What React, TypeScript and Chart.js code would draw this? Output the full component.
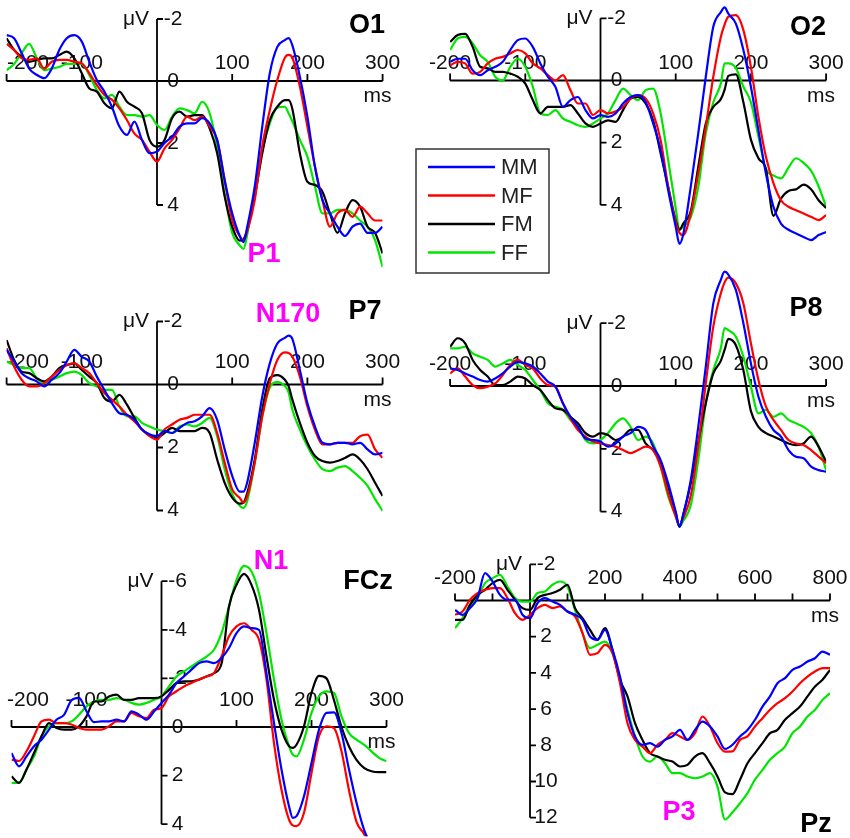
import React, { useEffect, useRef } from "react";
import { Chart, registerables } from "chart.js";

Chart.register(...registerables);

// ---------- series / categories ----------
const SERIES_NAMES = ["MM", "MF", "FM", "FF"];
const SERIES_COLORS = ["#0000ff", "#ff0000", "#000000", "#00e600"];

// time points (ms)
const TIMES_A = [-200,-190,-180,-170,-160,-150,-140,-130,-120,-110,-100,-90,-80,-70,-60,-50,-40,-30,-20,-10,0,10,20,30,40,50,60,70,80,90,100,110,115,120,130,140,150,160,170,175,180,190,200,210,220,230,240,250,260,270,280,290,300];
const TIMES_B = [-200,-190,-180,-170,-160,-150,-140,-130,-120,-110,-100,-90,-80,-70,-60,-50,-40,-30,-20,-10,0,10,20,30,40,50,60,70,80,90,100,105,110,120,130,140,150,160,165,170,180,190,200,210,220,230,240,250,260,270,280,290,300];
const TIMES_FCZ = [-200,-190,-180,-170,-160,-150,-140,-130,-120,-110,-100,-90,-80,-70,-60,-50,-40,-30,-20,-10,0,10,20,30,40,50,60,70,80,90,100,110,120,130,140,150,160,170,175,180,190,200,210,220,230,240,250,260,270,280,290,300];
const TIMES_PZ = [-200,-180,-160,-140,-120,-100,-80,-60,-40,-20,0,20,40,60,80,100,120,140,160,180,200,220,240,260,280,300,320,340,360,380,400,420,440,460,480,500,520,540,560,580,600,620,640,660,680,700,720,740,760,780,800];

// ---------- O1 (µV) ----------
const O1_MM = [-1.48,-1.38,-0.9,-0.4,-0.2,-0.09,-0.4,-1.0,-1.38,-1.48,-1.27,-0.62,-0.03,0.34,0.83,1.47,1.74,1.31,1.9,2.33,2.28,2.0,1.8,1.47,1.37,1.37,1.2,1.37,1.9,3.2,4.27,5.0,5.2,4.7,3.4,1.47,-0.25,-1.1,-1.32,-1.38,-1.15,-0.14,1.15,2.76,3.84,4.27,4.7,5.0,4.7,4.6,4.9,4.9,4.7];
const O1_MF = [-1.2,-1.0,-0.73,-0.68,-0.73,-0.4,-0.62,-0.68,-0.68,-0.62,-0.57,-0.25,0.13,0.45,0.6,0.88,1.26,1.7,1.9,2.28,2.6,2.17,1.9,1.53,1.15,1.26,1.15,1.47,1.9,3.2,4.5,5.0,5.15,4.85,3.84,2.1,0.94,-0.03,-0.75,-0.84,-0.75,0.18,1.47,2.76,3.84,4.7,4.27,4.16,4.38,4.05,4.27,4.5,4.5];
const O1_FM = [-1.38,-1.0,-0.78,-0.62,-0.68,-0.73,-0.73,-0.84,-0.95,-0.73,-0.25,0.24,0.34,0.72,0.88,0.34,0.67,0.83,1.04,1.9,2.12,1.9,1.2,0.99,1.15,1.1,1.1,1.53,2.33,3.73,4.7,5.15,5.1,4.8,3.73,2.33,1.26,0.83,0.62,0.62,0.9,2.33,3.25,3.35,3.57,4.27,4.9,4.27,3.84,4.05,4.7,4.9,5.56];
const O1_FF = [-0.35,-0.55,-0.9,-1.2,-0.75,-0.35,-0.4,-0.45,-0.55,-0.55,-0.55,-0.19,0.29,0.56,0.45,0.83,1.1,1.1,1.15,1.1,1.42,1.58,1.15,0.88,0.94,1.04,0.67,1.04,2.12,3.62,4.9,5.3,5.42,4.95,3.51,2.23,1.37,0.85,0.83,1.04,1.3,1.9,2.44,3.4,4.27,4.27,4.16,4.16,4.27,4.5,4.7,5.13,6.0];

// ---------- O2 ----------
const O2_MM = [-0.6,-0.7,-0.7,-0.33,-0.17,-0.33,-0.44,-0.6,-0.98,-1.3,-1.35,-1.08,-0.55,-0.12,0.2,0.85,0.63,0.53,0.95,1.22,1.11,1.17,1.06,0.74,0.53,0.47,0.69,1.38,2.24,3.53,4.7,5.25,4.95,3.42,1.7,-0.12,-1.73,-2.2,-2.35,-2.15,-1.83,-0.98,0.2,1.6,3.0,4.06,4.6,4.8,4.92,5.03,5.13,4.97,4.87];
const O2_MF = [-0.49,-0.6,-0.55,-0.22,-0.28,-0.55,-0.7,-0.76,-0.87,-0.98,-0.87,-0.55,-0.39,-0.17,0,-0.17,0.31,0.74,0.74,1.11,0.95,1.06,1.0,0.85,0.58,0.47,0.58,1.06,1.92,3.42,4.55,4.9,4.97,4.28,3.0,1.5,-0.12,-1.4,-1.8,-2.05,-2.1,-1.62,-0.44,1.17,2.45,3.3,3.85,4.06,4.17,4.28,4.38,4.49,4.33];
const O2_FM = [-1.24,-1.46,-1.5,-1.08,-0.44,-0.39,-0.28,-0.28,-0.22,-0.12,0.1,0.63,1.06,0.85,0.85,0.85,0.79,1.06,1.38,1.49,1.38,1.28,1.33,0.95,0.58,0.53,0.74,1.28,2.35,3.42,4.5,4.8,4.6,4.2,2.78,1.38,0.85,0.6,0.3,-0.15,-0.2,0.7,1.9,2.5,2.85,4.35,3.8,3.55,3.5,3.35,3.5,3.85,4.1];
const O2_FF = [-0.98,-1.35,-1.4,-1.19,-0.81,-0.6,-0.12,0,-0.44,-0.7,-0.44,0.2,1.06,1.11,0.95,1.22,1.33,1.44,1.49,1.38,1.22,1.06,0.63,0.26,0.47,0.63,0.31,0.26,1.06,2.56,4.1,4.8,4.7,4.4,3.42,1.7,0.7,0.1,-0.55,-0.55,-0.4,0.2,0.7,1.8,2.85,3.05,3.15,2.8,2.5,2.65,2.9,3.4,4.06];

// ---------- P7 ----------
const P7_MM = [-1.1,-0.73,-0.36,-0.2,-0.1,0.06,-0.15,-0.36,-0.73,-1.1,-0.88,-0.73,-0.25,0.17,0.59,0.91,0.96,1.12,1.43,1.59,1.64,1.48,1.54,1.38,1.22,1.17,1.01,0.75,1.12,2.06,2.9,3.4,3.4,3.1,1.85,0.38,-0.67,-1.3,-1.48,-1.55,-1.45,-0.46,0.59,1.33,1.85,1.9,1.85,1.85,1.9,1.85,2.06,2.22,2.17];
const P7_MF = [-1.15,-0.57,-0.15,0.06,0.06,-0.04,-0.25,-0.46,-0.62,-0.67,-0.52,-0.36,-0.04,0.27,0.48,0.7,0.96,1.17,1.43,1.64,1.75,1.43,1.27,1.12,1.06,0.96,0.96,0.96,1.54,2.48,3.33,3.6,3.75,3.55,2.48,1.01,-0.04,-0.78,-1.02,-1.0,-0.88,-0.25,0.7,1.43,1.9,1.9,1.85,1.85,1.85,1.64,1.59,2.06,2.33];
const P7_FM = [-1.41,-0.78,-0.41,-0.36,-0.2,-0.1,-0.25,-0.52,-0.62,-0.67,-0.46,-0.25,-0.04,0.43,0.54,0.33,0.64,1.06,1.43,1.59,1.69,1.54,1.38,1.48,1.48,1.48,1.38,1.54,2.38,3.12,3.59,3.78,3.75,3.45,2.38,0.8,-0.2,-0.3,-0.15,0.05,0.48,1.22,1.85,2.27,2.43,2.48,2.43,2.33,2.22,2.38,2.69,3.12,3.54];
const P7_FF = [-0.73,-0.62,-0.52,-0.52,-0.2,-0.04,-0.15,-0.25,-0.36,-0.41,-0.3,-0.04,0.06,0.17,0.17,0.7,1.01,1.01,1.22,1.33,1.43,1.48,1.54,1.33,1.27,1.33,1.22,1.06,1.64,2.69,3.48,3.85,3.92,3.7,2.48,1.01,0.1,-0.08,0.05,0.25,0.8,1.43,1.96,2.38,2.69,2.75,2.64,2.59,2.75,2.96,3.22,3.64,4.01];

// ---------- P8 ----------
const P8_MM = [-0.56,-0.51,-0.4,-0.3,-0.19,-0.14,-0.24,-0.4,-0.62,-0.77,-0.72,-0.62,-0.4,-0.14,0.02,0.55,0.98,1.3,1.67,1.72,1.77,1.93,1.83,1.61,1.5,1.3,1.4,1.93,2.36,3.1,4.0,4.48,4.1,3.0,1.3,-0.62,-2.63,-3.38,-3.64,-3.55,-3.06,-2.0,-0.72,0.34,0.98,1.4,1.61,2.04,2.25,2.3,2.57,2.68,2.73];
const P8_MF = [-0.4,-0.56,-0.3,-0.03,0.07,0.02,-0.08,-0.35,-0.67,-0.83,-0.67,-0.56,-0.24,-0.03,0.02,0.55,1.03,1.4,1.61,1.77,1.83,1.88,1.93,2.04,2.14,2.04,1.93,2.04,2.57,3.42,4.15,4.43,4.2,3.5,1.9,-0.08,-1.89,-2.95,-3.3,-3.45,-3.27,-2.63,-1.36,-0.19,0.66,1.08,1.4,1.72,1.83,1.88,2.04,2.25,2.46];
const P8_FM = [-1.25,-1.52,-1.36,-0.83,-0.51,-0.3,-0.03,-0.03,-0.14,-0.3,-0.24,-0.03,0.13,0.45,0.71,0.76,0.98,1.19,1.5,1.61,1.5,1.56,1.72,1.61,1.4,1.4,1.83,2.04,2.46,3.21,4.05,4.48,4.1,3.1,1.8,0.55,-0.4,-0.8,-1.15,-1.5,-1.3,-0.5,0.8,1.3,1.5,1.61,1.72,1.83,1.88,1.83,1.61,1.93,2.41];
const P8_FF = [-1.2,-1.2,-1.25,-1.04,-0.93,-0.83,-0.62,-0.72,-0.83,-0.67,-0.51,-0.19,0.13,0.55,0.66,0.76,1.08,1.3,1.72,1.83,1.72,1.5,1.19,1.03,1.3,1.72,1.61,1.83,2.57,3.52,4.15,4.48,4.3,3.8,2.36,0.55,-0.5,-1.2,-1.84,-1.78,-1.57,-0.93,0.02,0.87,0.76,0.98,0.87,1.08,1.19,1.3,1.5,1.93,2.68];

// ---------- FCz ----------
const FCZ_MM = [1.07,1.62,1.21,0.79,0.52,0.11,-0.3,-0.5,-1.1,-1.2,-0.65,-0.2,-0.23,-0.23,-0.3,-0.23,-0.64,-0.51,-0.3,-0.64,-0.99,-1.33,-1.81,-2.08,-2.36,-2.63,-2.7,-2.63,-2.84,-3.25,-3.86,-4.14,-4.07,-4.0,-2.2,-0.16,1.75,3.26,3.74,3.67,2.85,1.48,0.11,-0.58,-0.6,0.25,1.75,3.12,4.22,4.9,null,null];
const FCZ_MF = [1.34,1.4,1.0,0.38,-0.23,-0.3,-0.16,-0.16,-0.1,0.04,0.11,0.11,0.11,-0.03,-0.23,-0.23,-0.58,-0.44,-0.37,-0.71,-0.78,-1.26,-1.47,-1.67,-1.81,-1.95,-2.08,-2.22,-2.9,-3.73,-4.14,-4.27,-4.0,-3.59,-1.95,0.66,2.58,3.81,4.05,4.08,3.53,1.89,0.38,-0.03,0.05,1.0,2.6,3.9,4.4,4.95,null,null];
const FCZ_FM = [2.03,2.3,1.75,1.07,0.38,-0.16,0.04,0.11,0.11,-0.03,-0.44,-1.05,-1.05,-1.26,-1.33,-1.12,-1.12,-1.19,-1.19,-1.19,-1.26,-1.53,-1.81,-1.88,-1.88,-1.95,-2.08,-2.22,-2.6,-4.96,-5.85,-6.3,-5.85,-4.82,-2.9,-1.12,0.11,0.79,0.86,0.73,-0.03,-1.4,-2.1,-2.0,-1.1,0.0,0.8,1.35,1.68,1.82,1.86,1.86];
const FCZ_FF = [2.3,2.3,1.75,1.21,0.38,-0.03,-0.16,-0.16,-0.23,-0.51,-0.85,-1.05,-1.12,-1.12,-1.19,-1.12,-0.99,-0.92,-0.99,-1.12,-1.26,-1.67,-2.08,-2.29,-2.49,-2.7,-2.9,-3.18,-3.86,-4.96,-6.05,-6.63,-6.4,-5.5,-3.86,-1.95,-0.3,0.79,1.14,1.21,0.52,-0.58,-1.26,-1.47,-1.4,-0.44,0.25,0.52,0.73,1.0,1.27,1.41];

// ---------- Pz ----------
const PZ_MM = [0.52,0.79,0.42,-0.13,-1.51,-1.05,-0.31,-0.04,-0.04,0.79,0.98,0.15,-0.13,0.06,0.24,0.61,0.79,1.07,1.99,2.17,1.62,2.73,4.2,6.22,7.51,7.97,7.88,8.07,7.7,7.51,7.15,7.7,7.15,6.69,6.96,7.51,8.2,7.97,7.51,7.15,6.59,5.86,5.3,4.57,4.29,3.83,3.65,3.37,3.19,2.82,3.0];
const PZ_MF = [0.79,0.61,-0.04,-0.41,-0.59,-0.68,-0.68,-0.13,0.7,1.07,0.79,0.42,0.24,0.42,0.33,0.61,0.88,1.8,3.0,2.91,2.45,2.91,4.57,6.78,7.7,8.07,8.43,7.97,7.7,7.33,7.51,7.7,7.33,6.41,6.96,7.88,8.35,8.34,7.7,7.51,6.96,6.5,6.04,5.67,5.4,5.03,4.57,4.2,3.92,3.74,3.74];
const PZ_FM = [1.07,1.07,0.24,-0.31,-0.59,-0.96,-1.14,-0.59,-0.04,0.42,0.52,-0.13,-0.31,-0.41,-0.59,-0.87,0.42,0.98,1.62,2.17,1.53,2.73,4.38,5.3,6.78,7.7,8.43,8.62,8.8,8.9,9.17,9.08,8.62,8.43,8.99,9.72,10.6,10.7,9.9,8.99,8.43,7.88,7.33,7.15,6.59,6.22,5.86,5.3,4.75,4.38,3.83];
const PZ_FF = [1.53,0.98,0.24,-0.13,-0.96,-1.23,-1.42,-0.77,-0.13,0.06,0.06,-0.41,-0.5,-0.87,-1.05,-0.77,0.52,1.8,2.63,2.45,2.27,2.91,4.38,6.04,7.51,8.62,8.9,8.62,8.99,9.54,9.54,9.72,9.82,9.72,9.54,10.28,12.1,11.7,11.2,10.64,9.9,9.36,8.8,8.43,8.07,7.33,6.96,6.41,6.04,5.49,5.12];

// ---------- tick values ----------
const X_TICKS_SHORT = [-200, -100, 0, 100, 200, 300];
const X_LABELS_SHORT = [-200, -100, 100, 200, 300];
const X_TICKS_PZ = [-200, -100, 0, 100, 200, 300, 400, 500, 600, 700, 800];
const X_LABELS_PZ = [-200, 200, 400, 600, 800];
const Y_LABELS_SMALL = [-2, 0, 2, 4];
const Y_LABELS_FCZ = [-6, -4, -2, 0, 2, 4];
const Y_LABELS_PZ = [-2, 2, 4, 6, 8, 10, 12];

// ---------- panel layout (pixel geometry, separate from data) ----------
type Panel = {
  title: string;
  marker?: string;
  times: number[];
  series: (number | null)[][];
  x0: number; kx: number; y0: number; ky: number;
  xAxis: [number, number];
  xTicks: number[];
  xLabels: number[];
  xLabelGap: number;
  yAxis: [number, number];
  yLabels: number[];
  yRange: [number, number];
  titlePos: [number, number];
  markerPos?: [number, number];
  legend?: boolean;
};

const PANELS: Panel[] = [
  { title: "O1", marker: "P1", times: TIMES_A, series: [O1_MM, O1_MF, O1_FM, O1_FF],
    x0: 157, kx: 0.752, y0: 81, ky: 31, xAxis: [-200, 300], xTicks: X_TICKS_SHORT, xLabels: X_LABELS_SHORT, xLabelGap: 12,
    yAxis: [-2, 4], yLabels: Y_LABELS_SMALL, yRange: [-2.5, 6.2], titlePos: [367, 26], markerPos: [264, 255] },
  { title: "O2", times: TIMES_B, series: [O2_MM, O2_MF, O2_FM, O2_FF],
    x0: 600.5, kx: 0.752, y0: 80.5, ky: 31.1, xAxis: [-200, 300], xTicks: X_TICKS_SHORT, xLabels: X_LABELS_SHORT, xLabelGap: 12,
    yAxis: [-2, 4], yLabels: Y_LABELS_SMALL, yRange: [-2.5, 5.5], titlePos: [808, 28], legend: true },
  { title: "P7", marker: "N170", times: TIMES_A, series: [P7_MM, P7_MF, P7_FM, P7_FF],
    x0: 157, kx: 0.752, y0: 384.5, ky: 31.5, xAxis: [-200, 300], xTicks: X_TICKS_SHORT, xLabels: X_LABELS_SHORT, xLabelGap: 17,
    yAxis: [-2, 4], yLabels: Y_LABELS_SMALL, yRange: [-3, 4.5], titlePos: [365, 312], markerPos: [288, 315] },
  { title: "P8", times: TIMES_B, series: [P8_MM, P8_MF, P8_FM, P8_FF],
    x0: 600.5, kx: 0.752, y0: 386, ky: 31.4, xAxis: [-200, 300], xTicks: X_TICKS_SHORT, xLabels: X_LABELS_SHORT, xLabelGap: 16,
    yAxis: [-2, 4], yLabels: Y_LABELS_SMALL, yRange: [-4, 5], titlePos: [806, 309] },
  { title: "FCz", marker: "N1", times: TIMES_FCZ, series: [FCZ_MM, FCZ_MF, FCZ_FM, FCZ_FF],
    x0: 161.5, kx: 0.75, y0: 727, ky: 24.3, xAxis: [-200, 300], xTicks: X_TICKS_SHORT, xLabels: X_LABELS_SHORT, xLabelGap: 21,
    yAxis: [-6, 4], yLabels: Y_LABELS_FCZ, yRange: [-7.5, 4.5], titlePos: [368, 582], markerPos: [271, 562] },
  { title: "Pz", marker: "P3", times: TIMES_PZ, series: [PZ_MM, PZ_MF, PZ_FM, PZ_FF],
    x0: 530, kx: 0.375, y0: 600.5, ky: 18.1, xAxis: [-200, 800], xTicks: X_TICKS_PZ, xLabels: X_LABELS_PZ, xLabelGap: 17,
    yAxis: [-2, 12], yLabels: Y_LABELS_PZ, yRange: [-2.5, 12.8], titlePos: [816, 825], markerPos: [679, 813] },
];

const W = 850;
const H = 838;
const FONT = '"Liberation Sans", Arial, sans-serif';
const MAGENTA = "#ff00ff";

const erpPlugin = {
  id: "erp",
  beforeDatasetsDraw(chart: any, _args: any, opts: any) {
    const p: Panel = opts.panel;
    if (!p) return;
    const ctx = chart.ctx;
    const xs = chart.scales.x;
    const ys = chart.scales.y;
    const ax = xs.getPixelForValue(0);
    const ay = ys.getPixelForValue(0);
    ctx.save();
    ctx.strokeStyle = "#000";
    ctx.lineWidth = 1.8;
    ctx.beginPath();
    const xa = xs.getPixelForValue(p.xAxis[0]);
    const xb = xs.getPixelForValue(p.xAxis[1]);
    ctx.moveTo(xa, ay);
    ctx.lineTo(xb, ay);
    for (const t of p.xTicks) {
      const px = xs.getPixelForValue(t);
      ctx.moveTo(px, ay);
      ctx.lineTo(px, ay - 7);
    }
    const ya = ys.getPixelForValue(p.yAxis[0]);
    const yb = ys.getPixelForValue(p.yAxis[1]);
    ctx.moveTo(ax, ya);
    ctx.lineTo(ax, yb);
    for (const v of p.yLabels) {
      if (v === 0) continue;
      const py = ys.getPixelForValue(v);
      ctx.moveTo(ax, py);
      ctx.lineTo(ax + 6, py);
    }
    ctx.stroke();

    ctx.fillStyle = "#111";
    ctx.font = `21px ${FONT}`;
    ctx.textAlign = "center";
    ctx.textBaseline = "alphabetic";
    for (const t of p.xLabels) {
      const txt = String(t);
      const w = ctx.measureText(txt).width;
      let px = xs.getPixelForValue(t);
      if (px - w / 2 < 7) px = 7 + w / 2;
      ctx.fillText(txt, px, ay - p.xLabelGap);
    }
    ctx.textBaseline = "middle";
    for (const v of p.yLabels) {
      ctx.fillText(String(v), ax + 16, ys.getPixelForValue(v));
    }
    ctx.textAlign = "right";
    ctx.fillText("\u03bcV", ax - 8, ya);
    ctx.textBaseline = "alphabetic";
    ctx.fillText("ms", xb + 9, ay + 21);
    ctx.restore();
  },
  afterDatasetsDraw(chart: any, _args: any, opts: any) {
    const p: Panel = opts.panel;
    if (!p) return;
    const ctx = chart.ctx;
    ctx.save();
    ctx.textAlign = "center";
    ctx.textBaseline = "middle";
    ctx.font = `bold 27px ${FONT}`;
    ctx.fillStyle = "#000";
    ctx.fillText(p.title, p.titlePos[0], p.titlePos[1]);
    if (p.marker && p.markerPos) {
      ctx.fillStyle = MAGENTA;
      ctx.fillText(p.marker, p.markerPos[0], p.markerPos[1]);
    }
    if (p.legend) {
      const bx = 416, by = 149, bw = 133, bh = 124;
      ctx.fillStyle = "#fff";
      ctx.fillRect(bx, by, bw, bh);
      ctx.strokeStyle = "#333";
      ctx.lineWidth = 1.5;
      ctx.strokeRect(bx, by, bw, bh);
      ctx.font = `22px ${FONT}`;
      ctx.textAlign = "left";
      chart.data.datasets.forEach((ds: any, i: number) => {
        const y = by + 18 + i * 28.5;
        ctx.strokeStyle = ds.borderColor;
        ctx.lineWidth = 2.5;
        ctx.beginPath();
        ctx.moveTo(bx + 12, y);
        ctx.lineTo(bx + 79, y);
        ctx.stroke();
        ctx.fillStyle = "#222";
        ctx.fillText(ds.label, bx + 85, y + 1);
      });
    }
    ctx.restore();
  },
};

function ErpPanel({ panel }: { panel: Panel }) {
  const ref = useRef<HTMLCanvasElement | null>(null);
  useEffect(() => {
    if (!ref.current) return;
    const p = panel;
    const left = p.x0 + p.kx * p.xAxis[0];
    const right = W - (p.x0 + p.kx * p.xAxis[1]);
    const top = p.y0 + p.ky * p.yRange[0];
    const bottom = H - (p.y0 + p.ky * p.yRange[1]);
    const chart = new Chart(ref.current, {
      type: "line",
      data: {
        datasets: p.series.map((vals, i) => ({
          label: SERIES_NAMES[i],
          data: p.times.map((t, j) => ({ x: t, y: vals[j] })),
          borderColor: SERIES_COLORS[i],
          backgroundColor: SERIES_COLORS[i],
          borderWidth: 2.2,
          pointRadius: 0,
          fill: false,
          cubicInterpolationMode: "monotone",
          spanGaps: false,
        })),
      },
      options: {
        animation: false,
        responsive: false,
        events: [],
        layout: { padding: { left, right, top: Math.max(0, top), bottom: Math.max(0, bottom) } },
        scales: {
          x: { type: "linear", display: false, min: p.xAxis[0], max: p.xAxis[1] },
          y: { type: "linear", display: false, min: p.yRange[0], max: p.yRange[1], reverse: true },
        },
        plugins: {
          legend: { display: false },
          tooltip: { enabled: false },
          title: { display: false },
          erp: { panel: p },
        } as any,
      },
      plugins: [erpPlugin],
    } as any);
    return () => chart.destroy();
  }, [panel]);
  return (
    <canvas
      ref={ref}
      width={W}
      height={H}
      style={{ position: "absolute", left: 0, top: 0, width: W, height: H }}
    />
  );
}

export default function App() {
  return (
    <div
      style={{
        position: "absolute",
        left: 0,
        top: 0,
        width: W,
        height: H,
        background: "#fff",
        overflow: "hidden",
      }}
    >
      {PANELS.map((p) => (
        <ErpPanel key={p.title} panel={p} />
      ))}
    </div>
  );
}
